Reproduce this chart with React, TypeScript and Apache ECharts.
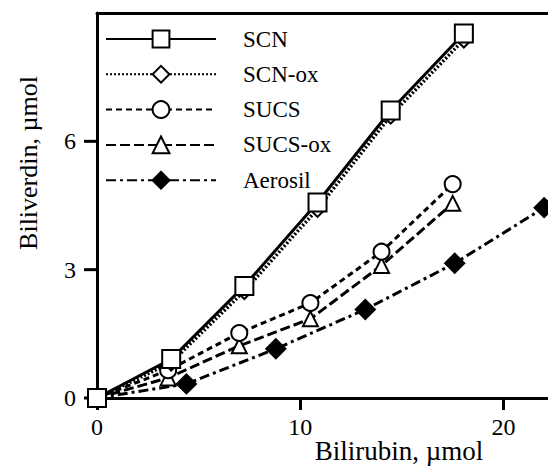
import React, { useEffect, useRef } from "react";
import * as echarts from "echarts";

const seriesNames = ["SCN", "SCN-ox", "SUCS", "SUCS-ox", "Aerosil"];
const scnX = [0, 3.65, 7.25, 10.85, 14.45, 18.05];
const scnY = [0, 0.91, 2.62, 4.57, 6.72, 8.52];
const scnOxY = [0, 0.83, 2.5, 4.42, 6.6, 8.38];
const sucsX = [0, 3.5, 7.0, 10.5, 14.0, 17.5];
const sucsY = [0, 0.65, 1.52, 2.22, 3.42, 5.0];
const sucsOxY = [0, 0.47, 1.22, 1.85, 3.1, 4.55];
const aeroX = [0, 4.4, 8.8, 13.2, 17.6, 22.0];
const aeroY = [0, 0.33, 1.15, 2.07, 3.15, 4.45];
const yTicks = [0, 3, 6];

const pair = (xs: number[], ys: number[]) => xs.map((x, i) => [x, ys[i]]);

const FONT = "Liberation Serif";

export default function App() {
  const ref = useRef<HTMLDivElement>(null);
  useEffect(() => {
    document.body.style.margin = "0";
    const chart = echarts.init(ref.current!, null, { renderer: "svg" });
    const common = (name: string, data: number[][], symbol: string, size: number, lineType: any, width: number, z: number) => ({
      name,
      type: "line",
      data,
      symbol,
      symbolSize: size,
      z,
      lineStyle: { color: "#000", width, type: lineType },
      itemStyle: { color: "#000", borderColor: "#000", borderWidth: 2.8 },
      emphasis: { disabled: true },
    });
    chart.setOption({
      animation: false,
      backgroundColor: "#fff",
      grid: { left: 97, right: -5, top: 13, bottom: 70, containLabel: false },
      legend: {
        orient: "vertical",
        left: 100,
        top: 22,
        itemWidth: 110,
        itemHeight: 21,
        itemGap: 11.3,
        data: seriesNames,
        textStyle: { fontFamily: FONT, fontSize: 23, lineHeight: 24, color: "#000", padding: [0, 0, 0, 22] },
        selectedMode: false,
      },
      xAxis: [
        {
          type: "value",
          min: 0,
          max: 22.19,
          interval: 10,
          position: "bottom",
          axisLine: { show: true, onZero: false, lineStyle: { color: "#000", width: 3 } },
          axisTick: { show: true, length: 12, lineStyle: { color: "#000", width: 3 } },
          axisLabel: { show: true, fontFamily: FONT, fontSize: 24, color: "#000", margin: 17, showMaxLabel: false },
          splitLine: { show: false },
        },
        {
          type: "value",
          min: 0,
          max: 22.19,
          position: "top",
          axisLine: { show: true, onZero: false, lineStyle: { color: "#000", width: 3 } },
          axisTick: { show: false },
          axisLabel: { show: false },
          splitLine: { show: false },
        },
      ],
      yAxis: {
        type: "value",
        min: 0,
        max: 9,
        interval: 3,
        axisLine: { show: true, onZero: false, lineStyle: { color: "#000", width: 3 } },
        axisTick: { show: false },
        axisLabel: { fontFamily: FONT, fontSize: 24, color: "#000", margin: 21, showMaxLabel: false },
        splitLine: { show: false },
      },
      graphic: [
        {
          type: "text",
          x: 399,
          y: 451,
          style: { text: "Bilirubin, µmol", fontFamily: FONT, fontSize: 27, fill: "#000", align: "center", verticalAlign: "middle" },
        },
        {
          type: "text",
          x: 28,
          y: 163,
          rotation: Math.PI / 2,
          style: { text: "Biliverdin, µmol", fontFamily: FONT, fontSize: 26, fill: "#000", align: "center", verticalAlign: "middle" },
        },
      ],
      series: [
        {
          name: "yTicks",
          type: "custom",
          data: yTicks.map((v) => [0, v]),
          encode: { x: 0, y: 1 },
          clip: false,
          silent: true,
          z: 1,
          renderItem: (params: any, api: any) => {
            const p = api.coord([api.value(0), api.value(1)]);
            return {
              type: "line",
              shape: { x1: p[0] - 13, y1: p[1], x2: p[0], y2: p[1] },
              style: { stroke: "#000", lineWidth: 3 },
            };
          },
        },
        common("Aerosil", pair(aeroX, aeroY), "diamond", 18, [10, 4, 3, 4], 3, 2),
        common("SUCS-ox", pair(sucsX, sucsOxY), "emptyTriangle", 15, [10, 4], 3, 3),
        common("SUCS", pair(sucsX, sucsY), "emptyCircle", 16, [6, 4], 3, 4),
        common("SCN-ox", pair(scnX, scnOxY), "emptyDiamond", 16, [2, 2], 3.5, 5),
        common("SCN", pair(scnX, scnY), "emptyRect", 18, "solid", 3, 6),
      ],
    });
    return () => chart.dispose();
  }, []);
  return <div ref={ref} style={{ width: 548, height: 468, position: "absolute", left: 0, top: 0 }} />;
}
